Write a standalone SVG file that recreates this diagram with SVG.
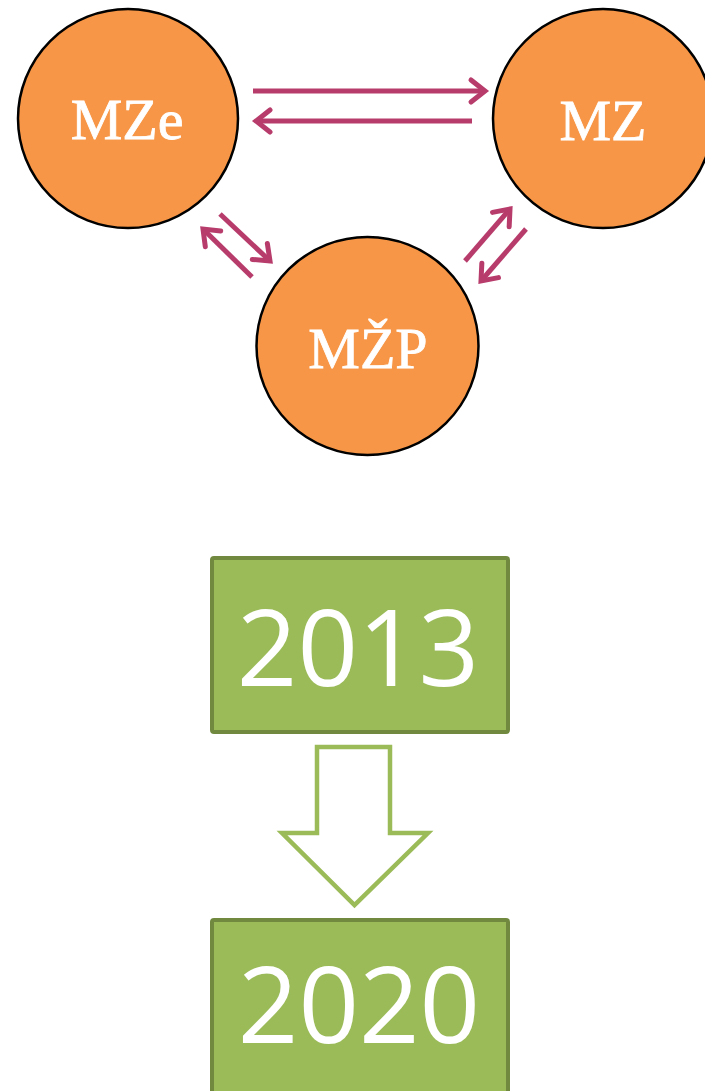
<svg xmlns="http://www.w3.org/2000/svg" width="705" height="1091" viewBox="0 0 705 1091">
  <style>
    .circ { fill: #f79646; stroke: #000; stroke-width: 2.5; }
    .ctext { font-family: "Liberation Serif", "DejaVu Serif", serif; font-size: 58px; fill: #ffffff; stroke: #ffffff; stroke-width: 0.8; text-anchor: middle; }
    .box { fill: #9bbb59; stroke: #71893f; stroke-width: 4; }
    .btext { font-family: "Open Sans", "Liberation Sans", sans-serif; font-size: 106px; fill: #ffffff; text-anchor: middle; }
    .conn { stroke: #b83c6b; stroke-width: 5; fill: none; marker-end: url(#head); }
  </style>
  <defs>
    <marker id="head" markerUnits="userSpaceOnUse" markerWidth="34" markerHeight="34" viewBox="-22 -17 34 34" refX="0" refY="0" orient="auto">
      <path d="M -14 -11 L 0 0 L -14 11" fill="none" stroke="#b83c6b" stroke-width="5" stroke-linecap="round" stroke-linejoin="miter"/>
    </marker>
  </defs>
  <rect width="705" height="1091" fill="#ffffff"/>
  <g id="node-MZe">
    <ellipse class="circ" cx="128" cy="118.5" rx="110" ry="109.5"/>
    <text class="ctext" x="127" y="139">MZe</text>
  </g>
  <g id="node-MZ">
    <ellipse class="circ" cx="603" cy="118.5" rx="110" ry="109.5"/>
    <text class="ctext" x="603" y="140">MZ</text>
  </g>
  <g id="node-MZP">
    <ellipse class="circ" cx="367.5" cy="346" rx="111" ry="109"/>
    <text class="ctext" x="368" y="368">MŽP</text>
  </g>
  <g id="connectors">
    <line class="conn" x1="253" y1="91" x2="485" y2="91"/>
    <line class="conn" x1="472" y1="121" x2="256" y2="121"/>
    <line class="conn" x1="220" y1="214" x2="270" y2="261"/>
    <line class="conn" x1="252" y1="277" x2="203" y2="229"/>
    <line class="conn" x1="465" y1="261" x2="510" y2="209"/>
    <line class="conn" x1="526" y1="229" x2="481" y2="281"/>
  </g>
  <g id="node-2013">
    <rect class="box" x="212" y="558" width="296" height="174" rx="2"/>
    <text class="btext" x="358" y="686">2013</text>
  </g>
  <g id="transition-arrow">
    <path d="M317,747 L390,747 L390,833 L428,833 L354.5,905 L282,833 L317,833 Z" fill="#ffffff" stroke="#9bbb59" stroke-width="4.5" stroke-linejoin="miter"/>
  </g>
  <g id="node-2020">
    <rect class="box" x="212" y="920" width="296" height="200" rx="2"/>
    <text class="btext" x="359" y="1043">2020</text>
  </g>
</svg>
